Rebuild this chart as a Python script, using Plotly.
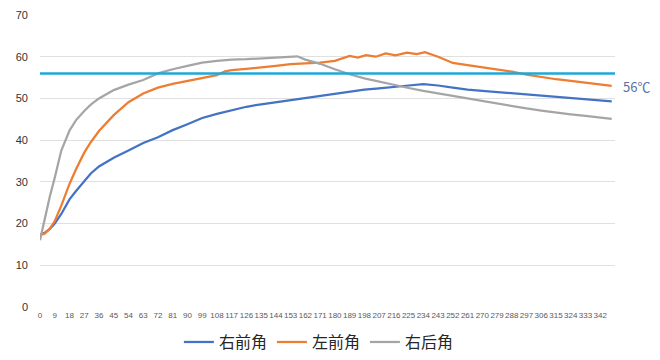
import plotly.graph_objects as go

# ---- data ----
t_rf = [0, 3, 6, 9, 13, 18, 22, 27, 31, 36, 45, 54, 63, 72, 81, 90, 99, 108, 117, 126,
        135, 144, 153, 157, 162, 171, 180, 189, 198, 207, 216, 225, 234, 243, 252, 261,
        270, 279, 288, 297, 306, 315, 324, 333, 342, 349]
v_rf = [17.3, 17.8, 18.7, 20.0, 22.3, 25.8, 27.8, 30.2, 32.0, 33.7, 35.8, 37.5, 39.3, 40.7,
        42.4, 43.8, 45.3, 46.3, 47.2, 48.0, 48.6, 49.1, 49.7, 49.9, 50.2, 50.7, 51.1, 51.6,
        52.1, 52.4, 52.8, 53.1, 53.4, 53.1, 52.6, 52.1, 51.8, 51.5, 51.2, 50.9, 50.6, 50.3,
        50.0, 49.8, 49.5, 49.3]

t_lf = [0, 3, 6, 9, 13, 18, 22, 27, 31, 36, 45, 54, 63, 72, 81, 90, 99, 108, 113, 117, 126,
        135, 144, 153, 162, 171, 180, 189, 194, 199, 205, 211, 217, 224, 230, 235, 243, 252,
        261, 270, 279, 288, 297, 306, 315, 324, 333, 342, 349]
v_lf = [17.2, 17.6, 18.8, 20.6, 24.3, 29.5, 33.0, 37.0, 39.5, 42.2, 46.0, 49.1, 51.2, 52.6,
        53.5, 54.2, 55.0, 55.6, 56.5, 56.8, 57.1, 57.4, 57.8, 58.2, 58.4, 58.6, 59.0, 60.2,
        59.8, 60.4, 60.0, 60.8, 60.3, 61.0, 60.6, 61.1, 60.0, 58.5, 58.0, 57.5, 57.0, 56.4,
        55.7, 55.1, 54.6, 54.2, 53.8, 53.4, 53.0]

t_rr = [0, 3, 6, 9, 13, 18, 22, 27, 31, 36, 45, 54, 63, 72, 81, 90, 99, 108, 117, 126, 135,
        144, 153, 157, 162, 171, 180, 189, 198, 207, 216, 225, 234, 243, 252, 261, 270, 279,
        288, 297, 306, 315, 324, 333, 342, 349]
v_rr = [16.0, 21.5, 26.5, 31.0, 37.5, 42.3, 44.8, 47.0, 48.5, 50.0, 52.0, 53.3, 54.4, 56.0,
        57.0, 57.8, 58.6, 59.0, 59.3, 59.4, 59.6, 59.7, 60.0, 60.1, 59.3, 58.3, 57.0, 55.8,
        54.8, 54.0, 53.2, 52.5, 51.8, 51.2, 50.6, 50.0, 49.3, 48.8, 48.2, 47.6, 47.1, 46.6,
        46.2, 45.8, 45.5, 45.1]

threshold = 56
threshold_label = "56℃"
series_names = ["右前角", "左前角", "右后角"]
x_ticks = list(range(0, 343, 9))
y_ticks = [0, 10, 20, 30, 40, 50, 60, 70]

colors = ["#4472C4", "#ED7D31", "#A5A5A5"]

fig = go.Figure()
for name, tx, vy, c in zip(series_names, [t_rf, t_lf, t_rr], [v_rf, v_lf, v_rr], colors):
    fig.add_trace(go.Scatter(x=tx, y=vy, mode="lines", name=name,
                             line=dict(color=c, width=2.25)))

fig.add_trace(go.Scatter(x=[0, 351], y=[threshold, threshold], mode="lines",
                         line=dict(color="#1EA8D8", width=2.5), showlegend=False,
                         hoverinfo="skip"))

fig.add_annotation(text=threshold_label, xref="paper", yref="y", x=1.012, y=52.8,
                   xanchor="left", yanchor="middle", showarrow=False, borderpad=0,
                   font=dict(size=13, color="#5B6FA5", family="Noto Sans CJK SC"))

fig.update_layout(
    width=660, height=360,
    margin=dict(l=32, r=53, t=7, b=61, autoexpand=False),
    paper_bgcolor="white", plot_bgcolor="white",
    legend=dict(orientation="h", x=0.485, xanchor="center", yref="container",
                y=0.072, yanchor="middle",
                font=dict(size=16, color="#262626", family="Noto Sans CJK SC"),
                itemwidth=30, tracegroupgap=0),
    font=dict(family="Liberation Sans"),
)
fig.update_xaxes(range=[0, 351], tickmode="array", tickvals=x_ticks,
                 ticktext=[str(v) for v in x_ticks], tickangle=0,
                 tickfont=dict(size=8, color="#595959", family="Liberation Sans Narrow, Liberation Sans"),
                 showgrid=False, zeroline=False, showline=False, ticks="",
                 ticklabelstandoff=2)
fig.update_yaxes(range=[0, 70], tickmode="array", tickvals=y_ticks,
                 tickfont=dict(size=11, color="#333333", family="Liberation Sans"),
                 showgrid=True, gridcolor="#E0E0E0", gridwidth=1, zeroline=False,
                 showline=False, ticks="", ticklabelstandoff=11)

fig.write_html("out.html")
